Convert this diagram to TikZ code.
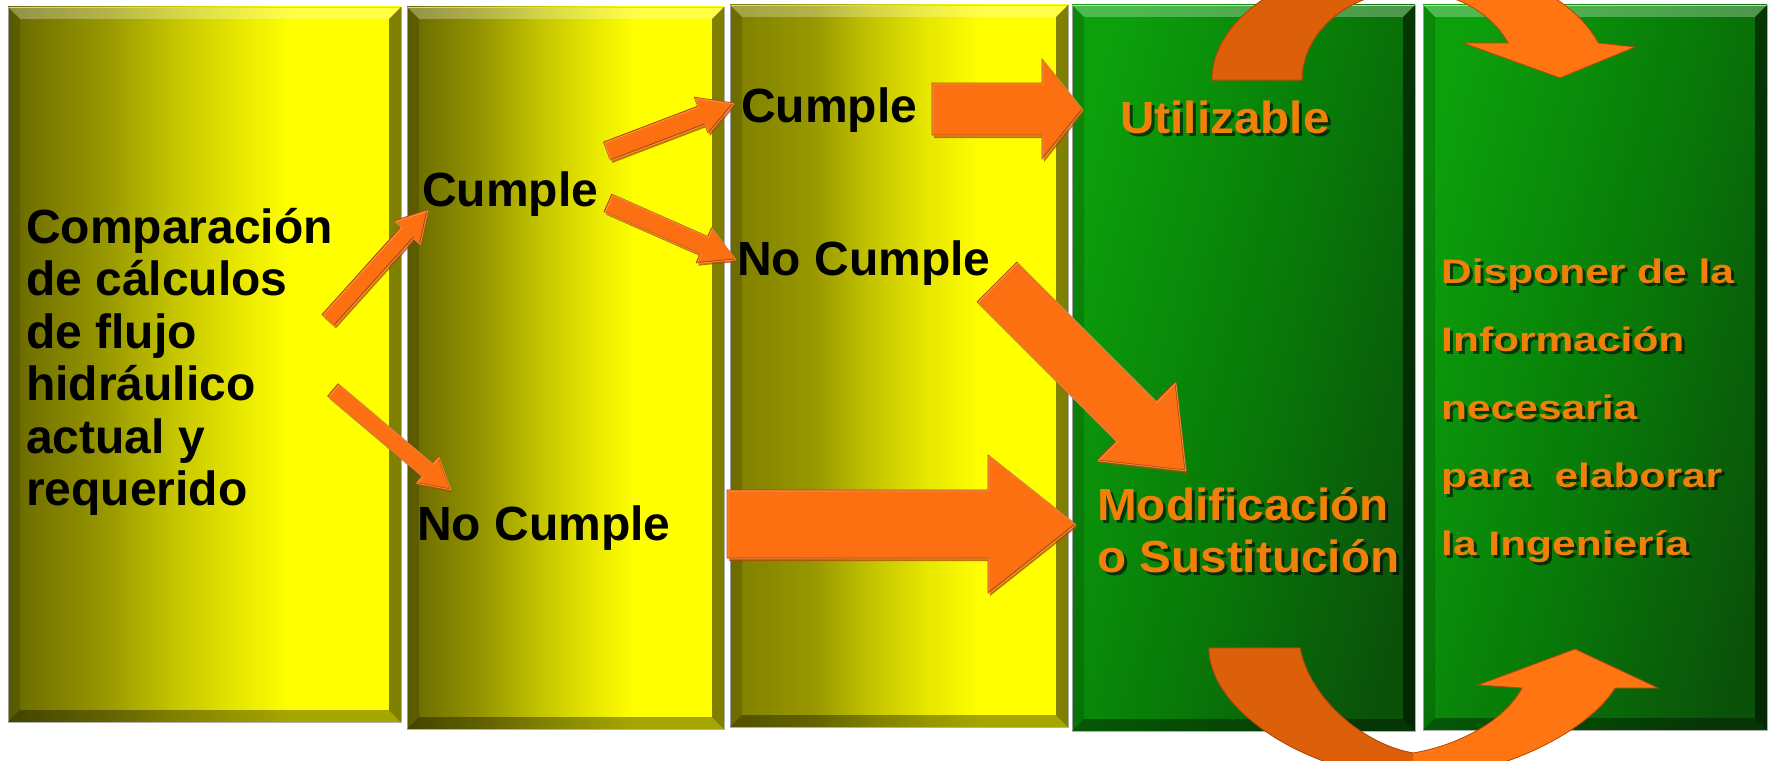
\documentclass[tikz,border=0pt]{standalone}
\usepackage{fontspec}
\setmainfont{Liberation Sans}
\newfontfamily\widefont[FakeStretch=1.25]{Liberation Sans}
\newfontfamily\midfont[FakeStretch=1.06]{Liberation Sans}
\usetikzlibrary{calc}

\definecolor{ylA}{RGB}{104,104,0}
\definecolor{ylAb}{RGB}{126,126,0}
\definecolor{ylB}{RGB}{152,152,0}
\definecolor{ylC}{RGB}{196,196,0}
\definecolor{ylD}{RGB}{230,230,0}
\definecolor{ylE}{RGB}{255,255,0}
\definecolor{gA}{RGB}{12,160,12}
\definecolor{gB}{RGB}{8,125,8}
\definecolor{gC}{RGB}{10,82,10}
\definecolor{orA}{RGB}{252,112,18}
\definecolor{orD}{RGB}{176,72,6}
\definecolor{orH}{RGB}{255,160,90}
\definecolor{curvD}{RGB}{220,95,10}
\definecolor{curvL}{RGB}{255,117,18}
\definecolor{txtor}{RGB}{240,128,10}
\definecolor{edgegray}{RGB}{185,185,185}

\pgfdeclarehorizontalshading{yshade}{100bp}{color(0bp)=(ylA); color(25bp)=(ylA); color(37.5bp)=(ylB); color(46bp)=(ylC); color(54bp)=(ylD); color(61bp)=(ylE); color(100bp)=(ylE)}
\pgfdeclarehorizontalshading{yshadeb}{100bp}{color(0bp)=(ylAb); color(25bp)=(ylAb); color(37.5bp)=(ylB); color(46bp)=(ylC); color(54bp)=(ylD); color(62bp)=(ylE); color(100bp)=(ylE)}
\pgfdeclarehorizontalshading{gshade}{100bp}{color(0bp)=(gA); color(25bp)=(gA); color(50bp)=(gB); color(75bp)=(gC); color(100bp)=(gC)}

\newcommand{\bv}{12}
\newcommand{\colbevel}[1]{%
  \fill[white, opacity=0.28] (#1.north west) -- (#1.north east) -- ($(#1.north east)+(-\bv,\bv)$) -- ($(#1.north west)+(\bv,\bv)$) -- cycle;
  \fill[black, opacity=0.15] (#1.north west) -- ($(#1.north west)+(\bv,\bv)$) -- ($(#1.south west)+(\bv,-\bv)$) -- (#1.south west) -- cycle;
  \fill[black, opacity=0.5] (#1.north east) -- (#1.south east) -- ($(#1.south east)+(-\bv,-\bv)$) -- ($(#1.north east)+(-\bv,\bv)$) -- cycle;
  \fill[black, opacity=0.35] (#1.south west) -- ($(#1.south west)+(\bv,-\bv)$) -- ($(#1.south east)+(-\bv,-\bv)$) -- (#1.south east) -- cycle;
}
\newcommand{\arrowpath}[5]{($(#1)!#3!90:(#2)$) -- ($(#2)!#5!(#1)!#3!-90:(#1)$) -- ($(#2)!#5!(#1)!#4!-90:(#1)$) -- (#2) -- ($(#2)!#5!(#1)!#4!90:(#1)$) -- ($(#2)!#5!(#1)!#3!90:(#1)$) -- ($(#1)!#3!-90:(#2)$) -- cycle}
\newcommand{\blockarrow}[5]{%
  \path[arrowshadow] \arrowpath{#1}{#2}{#3}{#4}{#5};
  \path[arrowbody] \arrowpath{#1}{#2}{#3}{#4}{#5};
  \path[arrowhilite] \arrowpath{#1}{#2}{#3}{#4}{#5};
}

\begin{document}
\begin{tikzpicture}[x=1pt,y=-1pt,
  colbox/.style={inner sep=0pt, outer sep=0pt, anchor=north west, draw=edgegray, line width=0.8pt},
  blk/.style={font=\fontsize{48}{52.5}\selectfont\bfseries, text=black, inner sep=0pt, anchor=base west, align=left},
  ortxt/.style={font=\midfont\fontsize{45}{52}\selectfont\bfseries, text=txtor, inner sep=0pt, anchor=base west, align=left},
  orwide/.style={font=\widefont\fontsize{34}{68}\selectfont\bfseries, text=txtor, inner sep=0pt, anchor=base west, align=left},
  txtshadow/.style={text=black, text opacity=0.6},
  arrowshadow/.style={fill=orD, fill opacity=0.75, transform canvas={shift={(2pt,-3pt)}}},
  arrowbody/.style={fill=orA, draw=orD, line width=1pt, line join=round},
  arrowhilite/.style={draw=orH, line width=1pt, line join=round, transform canvas={shift={(0.8pt,-0.8pt)}}, draw opacity=0.7},
  curvedark/.style={fill=curvD, draw=orD, line width=0.8pt},
  curvelight/.style={fill=curvL, draw=orD, line width=0.8pt}
]
\useasboundingbox (0,0) rectangle (1771,760);
\clip (0,0) rectangle (1771,760);
\fill[white] (0,0) rectangle (1771,760);

% columns
\node[colbox, shading=yshade, minimum width=393pt, minimum height=715pt] (col1) at (8,7) {};
\node[colbox, shading=yshade, minimum width=317pt, minimum height=722pt] (col2) at (407,7) {};
\node[colbox, shading=yshadeb, minimum width=338pt, minimum height=722pt] (col3) at (730,5) {};
\node[colbox, shading=gshade, shading angle=-15, minimum width=343pt, minimum height=726pt] (col4) at (1072,5) {};
\node[colbox, shading=gshade, shading angle=-15, minimum width=344pt, minimum height=725pt] (col5) at (1423,5) {};
\colbevel{col1}
\colbevel{col2}
\colbevel{col3}
\colbevel{col4}
\colbevel{col5}

% black texts (base anchor = baseline of last line)
\node[blk] (comp) at (26,505.5) {Comparación\\de cálculos\\de flujo\\hidráulico\\actual y\\requerido};
\node[blk] (cum1) at (422,206) {Cumple};
\node[blk] (nocum1) at (417,540) {No Cumple};
\node[blk] (cum2) at (741,122) {Cumple};
\node[blk] (nocum2) at (737,275) {No Cumple};

% orange texts with shadows
\node[ortxt, txtshadow] (utilS) at (1123,136) {Utilizable};
\node[ortxt] (util) at (1120,133) {Utilizable};
\node[ortxt, txtshadow] (modS) at (1100,575) {Modificación\\o Sustitución};
\node[ortxt] (mod) at (1097,572) {Modificación\\o Sustitución};
\node[orwide, txtshadow] (dispS) at (1444,558) {Disponer de la\\Información\\necesaria\\para\ \ elaborar\\la Ingeniería};
\node[orwide] (disp) at (1441,555) {Disponer de la\\Información\\necesaria\\para\ \ elaborar\\la Ingeniería};

% straight block arrows
\coordinate (a1s) at (328,320); \coordinate (a1e) at (427,210);
\coordinate (a2s) at (333,390); \coordinate (a2e) at (450,489);
\coordinate (a3s) at (607,151); \coordinate (a3e) at (733,103);
\coordinate (a4s) at (608,203); \coordinate (a4e) at (735,259);
\coordinate (a5s) at (932,109); \coordinate (a5e) at (1082,109);
\coordinate (a6s) at (997,282); \coordinate (a6e) at (1185,470);
\coordinate (a7s) at (727,524); \coordinate (a7e) at (1075,524);
\blockarrow{a1s}{a1e}{8pt}{17pt}{30pt}
\blockarrow{a2s}{a2e}{8pt}{17pt}{30pt}
\blockarrow{a3s}{a3e}{9.5pt}{19pt}{34pt}
\blockarrow{a4s}{a4e}{9.5pt}{19pt}{34pt}
\blockarrow{a5s}{a5e}{26pt}{50pt}{40pt}
\blockarrow{a6s}{a6e}{28pt}{55pt}{69pt}
\blockarrow{a7s}{a7e}{34pt}{69pt}{87pt}

% top curved arrow
\newcommand{\toparc}{(1212,80) arc[start angle=180, end angle=342, x radius=198, y radius=120] -- (1635,47) -- (1560,78) -- (1463,43) -- (1508.2,43) arc[start angle=335.4, end angle=180, x radius=108, y radius=89] -- cycle}
\path[curvelight] \toparc;
\begin{scope}
  \clip (0,0) rectangle (1410,200);
  \path[curvedark] \toparc;
\end{scope}

% bottom curved arrow
\newcommand{\botarc}{(1209,648) .. controls (1209,715) and (1320,778) .. (1413,778) .. controls (1500,778) and (1590,730) .. (1615,688) -- (1658,688) -- (1575,649) -- (1478,685) -- (1522,688) .. controls (1505,720) and (1460,745) .. (1413,753) .. controls (1365,745) and (1310,700) .. (1300,648) -- cycle}
\path[curvelight] \botarc;
\begin{scope}
  \clip (1100,600) rectangle (1413,800);
  \path[curvedark] \botarc;
\end{scope}
\end{tikzpicture}
\end{document}
